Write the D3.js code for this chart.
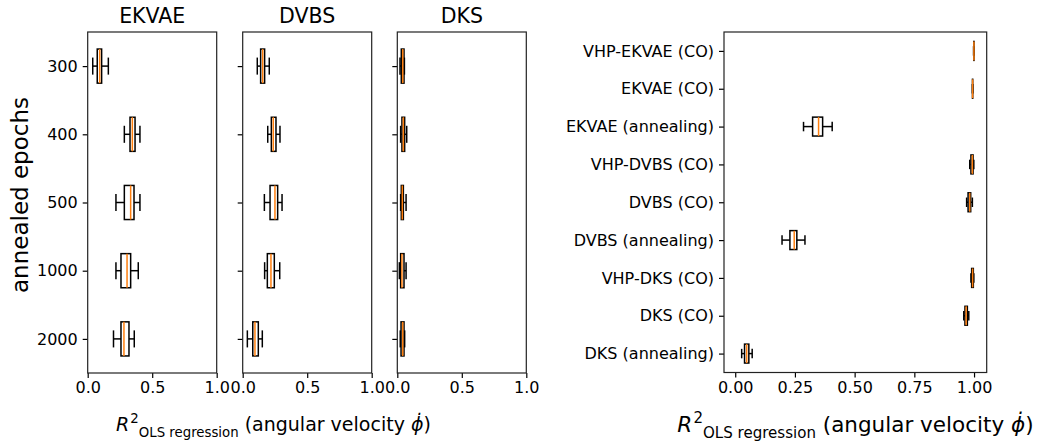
<!DOCTYPE html>
<html>
<head>
<meta charset="utf-8">
<script src="https://cdn.jsdelivr.net/npm/d3@7"></script>
<style>
  html, body { margin: 0; padding: 0; background: #fff; }
  svg { display: block; font-family: "DejaVu Sans", sans-serif; }
  .axis path, .axis line { stroke: #000; stroke-width: 1.2px; }
  .axis text { font-family: "DejaVu Sans", sans-serif; fill: #000; }
</style>
</head>
<body>
<svg id="chart" width="1042" height="443"></svg>
<script>
// Annealing-schedule comparison (left) — one panel per model
const models = ["EKVAE", "DVBS", "DKS"];
const epochs = ["300", "400", "500", "1000", "2000"];

// five-number summaries per epoch setting: [whisker low, q1, median, q3, whisker high]
const ekvaeBox = [
  [0.039, 0.074, 0.093, 0.108, 0.160],
  [0.284, 0.328, 0.346, 0.367, 0.405],
  [0.219, 0.284, 0.333, 0.359, 0.405],
  [0.219, 0.258, 0.305, 0.333, 0.392],
  [0.200, 0.258, 0.281, 0.320, 0.361]
];
const dvbsBox = [
  [0.113, 0.139, 0.155, 0.170, 0.206],
  [0.194, 0.222, 0.237, 0.258, 0.289],
  [0.168, 0.212, 0.250, 0.271, 0.305],
  [0.170, 0.191, 0.219, 0.245, 0.287],
  [0.036, 0.078, 0.095, 0.121, 0.152]
];
const dksBox = [
  [0.021, 0.031, 0.042, 0.052, 0.055],
  [0.026, 0.036, 0.047, 0.057, 0.073],
  [0.026, 0.031, 0.039, 0.047, 0.068],
  [0.016, 0.026, 0.036, 0.052, 0.068],
  [0.023, 0.029, 0.042, 0.052, 0.057]
];
const panelBoxes = [ekvaeBox, dvbsBox, dksBox];
const leftTicks = [0, 0.5, 1.0];

// Method comparison (right), listed top to bottom
const methods = [
  "VHP-EKVAE (CO)", "EKVAE (CO)", "EKVAE (annealing)",
  "VHP-DVBS (CO)", "DVBS (CO)", "DVBS (annealing)",
  "VHP-DKS (CO)", "DKS (CO)", "DKS (annealing)"
];
const methodBox = [
  [0.998, 0.999, 0.9995, 1.000, 1.000],
  [0.993, 0.9935, 0.994, 0.9945, 0.995],
  [0.286, 0.324, 0.349, 0.366, 0.406],
  [0.982, 0.987, 0.993, 0.996, 0.999],
  [0.969, 0.975, 0.982, 0.986, 0.993],
  [0.196, 0.229, 0.247, 0.258, 0.292],
  [0.987, 0.990, 0.994, 0.997, 0.999],
  [0.957, 0.962, 0.967, 0.972, 0.978],
  [0.027, 0.039, 0.048, 0.057, 0.071]
];
const rightTicks = [0, 0.25, 0.5, 0.75, 1.0];

const svg = d3.select("#chart");
const MEDIAN = "#ff7f0e";
const TICK_FS = 16;
const LINE_W = 1.5;

// Horizontal box plot drawn into group g, with scales x (value) and y (position)
function drawBoxes(g, data, x, y, posOf) {
  const unit = Math.abs(y(1) - y(0));
  const half = unit * 0.25, capHalf = unit * 0.125;
  data.forEach((d, i) => {
    const [lo, q1, med, q3, hi] = d;
    const cy = y(posOf(i));
    const b = g.append("g");
    // whiskers
    b.append("line").attr("x1", x(lo)).attr("x2", x(q1)).attr("y1", cy).attr("y2", cy);
    b.append("line").attr("x1", x(q3)).attr("x2", x(hi)).attr("y1", cy).attr("y2", cy);
    // caps
    b.append("line").attr("x1", x(lo)).attr("x2", x(lo)).attr("y1", cy - capHalf).attr("y2", cy + capHalf);
    b.append("line").attr("x1", x(hi)).attr("x2", x(hi)).attr("y1", cy - capHalf).attr("y2", cy + capHalf);
    b.selectAll("line").attr("stroke", "#000").attr("stroke-width", LINE_W);
    // box
    b.append("rect")
      .attr("x", x(q1)).attr("y", cy - half)
      .attr("width", Math.max(0, x(q3) - x(q1))).attr("height", 2 * half)
      .attr("fill", "none").attr("stroke", "#000").attr("stroke-width", LINE_W);
    // median
    b.append("line")
      .attr("x1", x(med)).attr("x2", x(med)).attr("y1", cy - half).attr("y2", cy + half)
      .attr("stroke", MEDIAN).attr("stroke-width", LINE_W);
  });
}

function frame(g, x0, x1, y0, y1) {
  g.append("rect").attr("x", x0).attr("y", y0).attr("width", x1 - x0).attr("height", y1 - y0)
    .attr("fill", "none").attr("stroke", "#222").attr("stroke-width", 1.2);
}

// Axis label R²_OLS regression (angular velocity ϕ̇)
function r2Label(x, yb, fs, anchor) {
  const t = svg.append("text").attr("x", x).attr("y", yb)
    .attr("font-size", fs).attr("text-anchor", anchor).attr("fill", "#000");
  t.append("tspan").attr("font-style", "italic").text("R");
  t.append("tspan").attr("font-size", fs * 0.7).attr("dy", -fs * 0.42).attr("dx", fs * 0.06).text("2");
  t.append("tspan").attr("font-size", fs * 0.7).attr("dy", fs * 0.72).text("OLS regression");
  t.append("tspan").attr("dy", -fs * 0.30).text(" (angular velocity ");
  t.append("tspan").attr("font-style", "italic").text("\u03D5\u0307");
  t.append("tspan").text(")");
  return t;
}

// ---------- left: three panels ----------
const plotTop = 32, plotBottom = 373;
const panelX = [[87.7, 216.7], [242.7, 371.7], [397.3, 526.3]];
const yLeft = d3.scaleLinear().domain([0.5, 5.5]).range([plotTop, plotBottom]);

panelX.forEach(([x0, x1], p) => {
  const x = d3.scaleLinear().domain([0, 1]).range([x0, x1]);
  const g = svg.append("g");
  drawBoxes(g, panelBoxes[p], x, yLeft, i => i + 1);

  const xa = svg.append("g").attr("class", "axis").attr("transform", `translate(0,${plotBottom})`)
    .call(d3.axisBottom(x).tickValues(leftTicks).tickFormat(d3.format(".1f")).tickSize(5).tickSizeOuter(0).tickPadding(4));
  xa.select(".domain").remove();
  xa.selectAll("text").attr("font-size", TICK_FS);

  const ya = svg.append("g").attr("class", "axis").attr("transform", `translate(${x0},0)`)
    .call(d3.axisLeft(yLeft).tickValues([1, 2, 3, 4, 5])
      .tickFormat(p === 0 ? (d => epochs[d - 1]) : () => "")
      .tickSize(5).tickSizeOuter(0).tickPadding(5));
  ya.select(".domain").remove();
  ya.selectAll("text").attr("font-size", TICK_FS);

  frame(svg, x0, x1, plotTop, plotBottom);

  svg.append("text").attr("x", (x0 + x1) / 2).attr("y", 23)
    .attr("text-anchor", "middle").attr("font-size", 20.5).text(models[p]);
});

svg.append("text").attr("transform", "translate(28,195) rotate(-90)")
  .attr("text-anchor", "middle").attr("font-size", 23).text("annealed epochs");

r2Label(116, 431, 19, "start");

// ---------- right: method comparison ----------
const rx0 = 724, rx1 = 986.7, rTop = 32, rBottom = 372.5;
const xRight = d3.scaleLinear().domain([-0.047, 1.053]).range([rx0, rx1]);
const yRight = d3.scaleLinear().domain([0.5, 9.5]).range([rBottom, rTop]);
const posRight = i => methods.length - i;

drawBoxes(svg.append("g"), methodBox, xRight, yRight, posRight);

const rxa = svg.append("g").attr("class", "axis").attr("transform", `translate(0,${rBottom})`)
  .call(d3.axisBottom(xRight).tickValues(rightTicks).tickFormat(d3.format(".2f")).tickSize(5).tickSizeOuter(0).tickPadding(4));
rxa.select(".domain").remove();
rxa.selectAll("text").attr("font-size", TICK_FS);

const rya = svg.append("g").attr("class", "axis").attr("transform", `translate(${rx0},0)`)
  .call(d3.axisLeft(yRight).tickValues(d3.range(1, methods.length + 1))
    .tickFormat(d => methods[methods.length - d]).tickSize(5).tickSizeOuter(0).tickPadding(5));
rya.select(".domain").remove();
rya.selectAll("text").attr("font-size", TICK_FS);

frame(svg, rx0, rx1, rTop, rBottom);

r2Label((rx0 + rx1) / 2, 432, 21.5, "middle");
</script>
</body>
</html>
